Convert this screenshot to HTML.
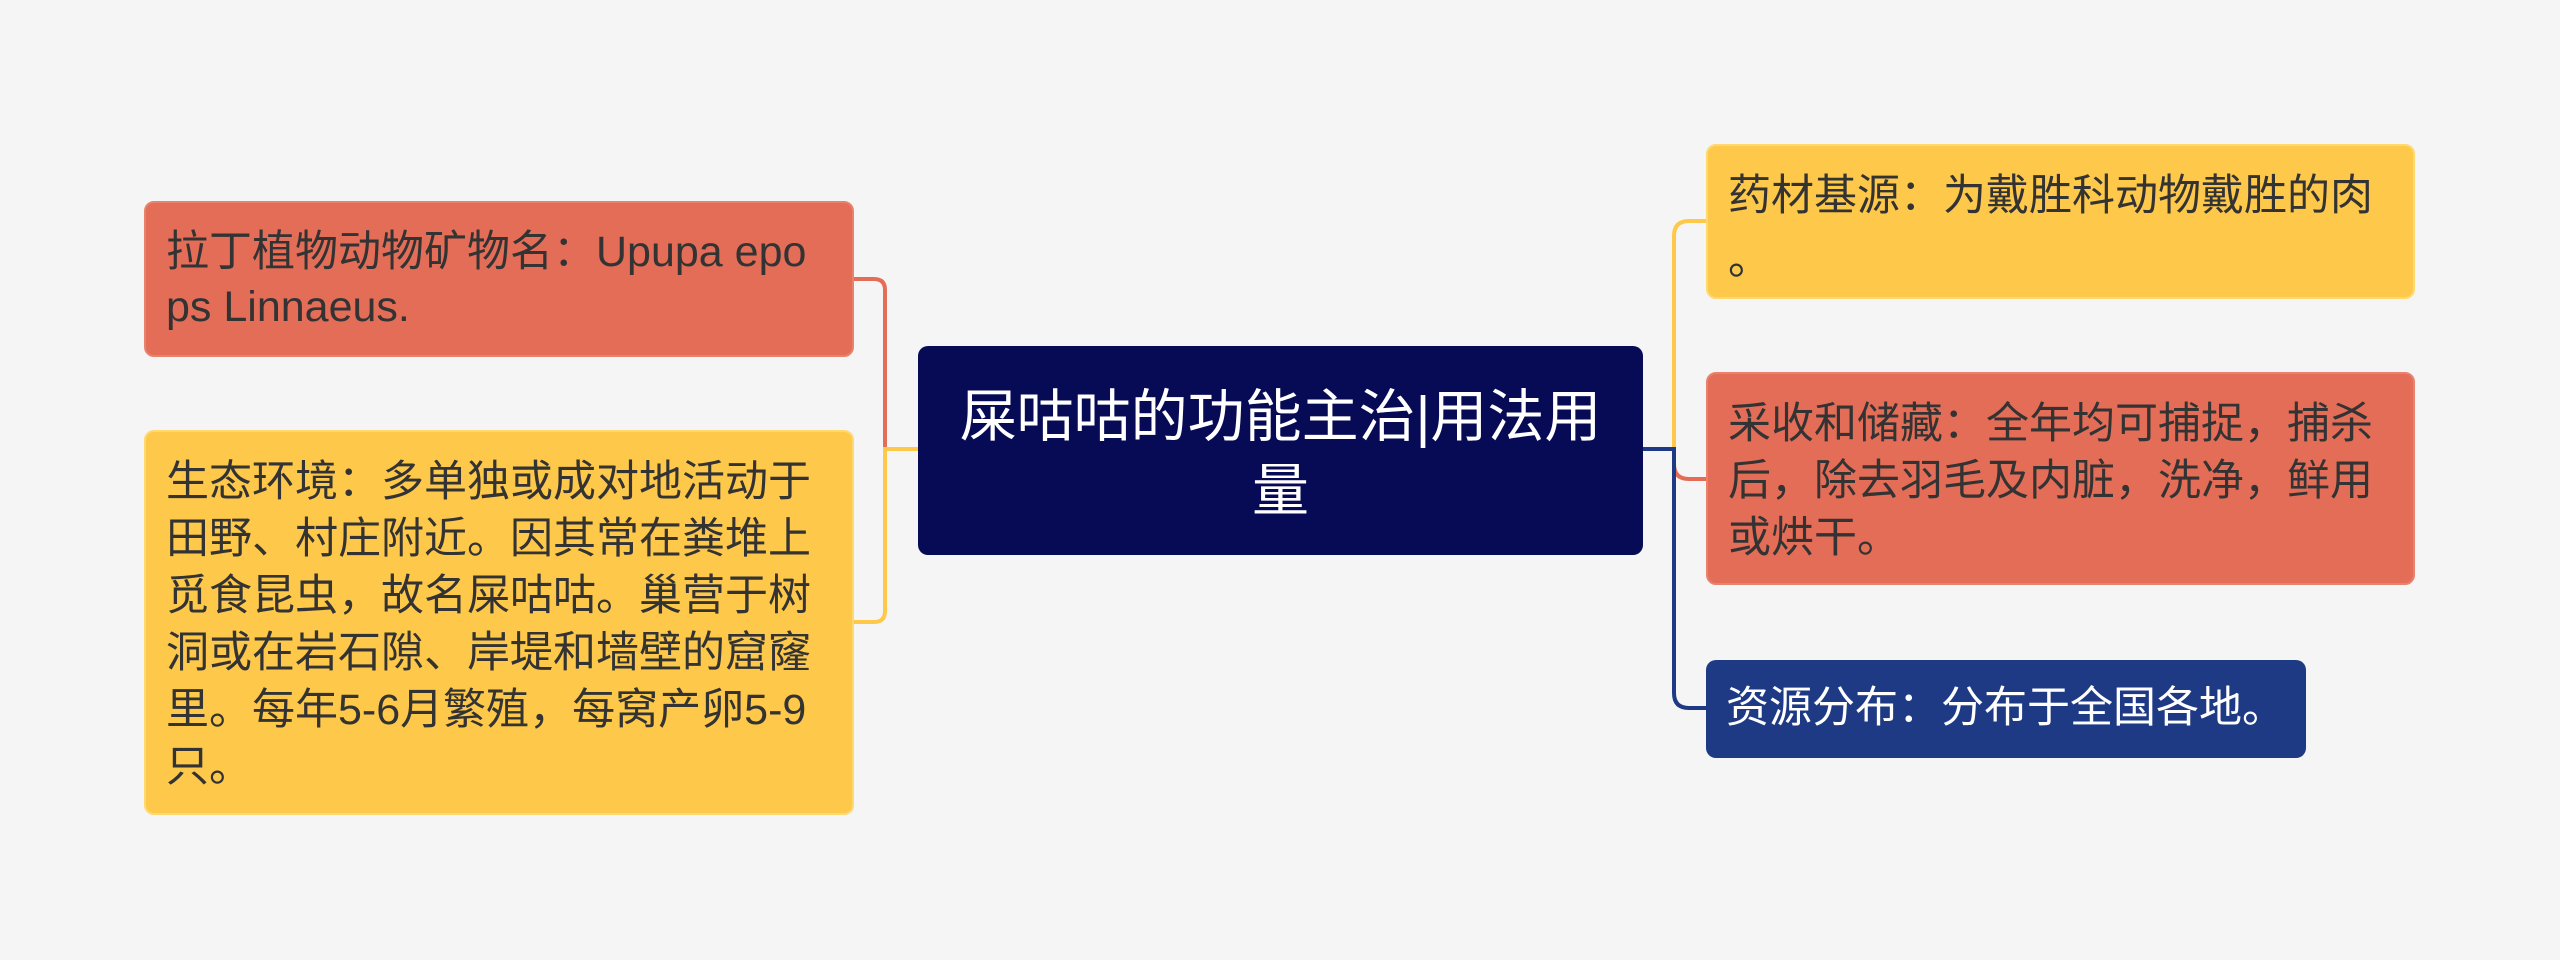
<!DOCTYPE html>
<html><head><meta charset="utf-8"><style>
body{margin:0;width:2560px;height:960px;background:#f5f5f5;position:relative;overflow:hidden;font-family:"Liberation Sans","Noto Sans CJK SC",sans-serif}
.n{position:absolute;box-sizing:border-box;border-radius:10px;padding:0 0 0 20px;font-size:43px;line-height:57px;color:#333;white-space:nowrap}
.r{background:#e46d58;border:2px solid #e8826e}
.y{background:#fec84a;border:2px solid #ffd870}
.b{background:#1f3a85;color:#fff}
.c{background:#070b55;color:#fff;text-align:center;padding:0;font-size:57px;line-height:74px}
svg{position:absolute;left:0;top:0}
</style></head><body>
<svg width="2560" height="960" fill="none" stroke-width="4">
<path d="M918 449 H885 V290 Q885 279 874 279 H854" stroke="#e46d58"/>
<path d="M918 449 H885 V611 Q885 622 874 622 H854" stroke="#fec84a"/>
<path d="M1643 449 H1674 V236 Q1674 221 1689 221 H1706" stroke="#fec84a"/>
<path d="M1643 449 H1674 V464 Q1674 479 1689 479 H1706" stroke="#e46d58"/>
<path d="M1643 449 H1674 V693 Q1674 708 1689 708 H1706" stroke="#1f3a85"/>
</svg>
<div class="n r" style="left:144px;top:201px;width:710px;height:156px;padding-top:22px;line-height:55px">拉丁植物动物矿物名：Upupa epo<br>ps Linnaeus.</div>
<div class="n y" style="left:144px;top:430px;width:710px;height:385px;padding-top:22px">生态环境：多单独或成对地活动于<br>田野、村庄附近。因其常在粪堆上<br>觅食昆虫，故名屎咕咕。巢营于树<br>洞或在岩石隙、岸堤和墙壁的窟窿<br>里。每年5-6月繁殖，每窝产卵5-9<br>只。</div>
<div class="n c" style="left:918px;top:346px;width:725px;height:209px;padding-top:34px">屎咕咕的功能主治|用法用<br>量</div>
<div class="n y" style="left:1706px;top:144px;width:709px;height:155px;padding-top:18px;line-height:64px">药材基源：为戴胜科动物戴胜的肉<br>。</div>
<div class="n r" style="left:1706px;top:372px;width:709px;height:213px;padding-top:22px">采收和储藏：全年均可捕捉，捕杀<br>后，除去羽毛及内脏，洗净，鲜用<br>或烘干。</div>
<div class="n b" style="left:1706px;top:660px;width:600px;height:98px;padding-top:20px">资源分布：分布于全国各地。</div>
</body></html>
